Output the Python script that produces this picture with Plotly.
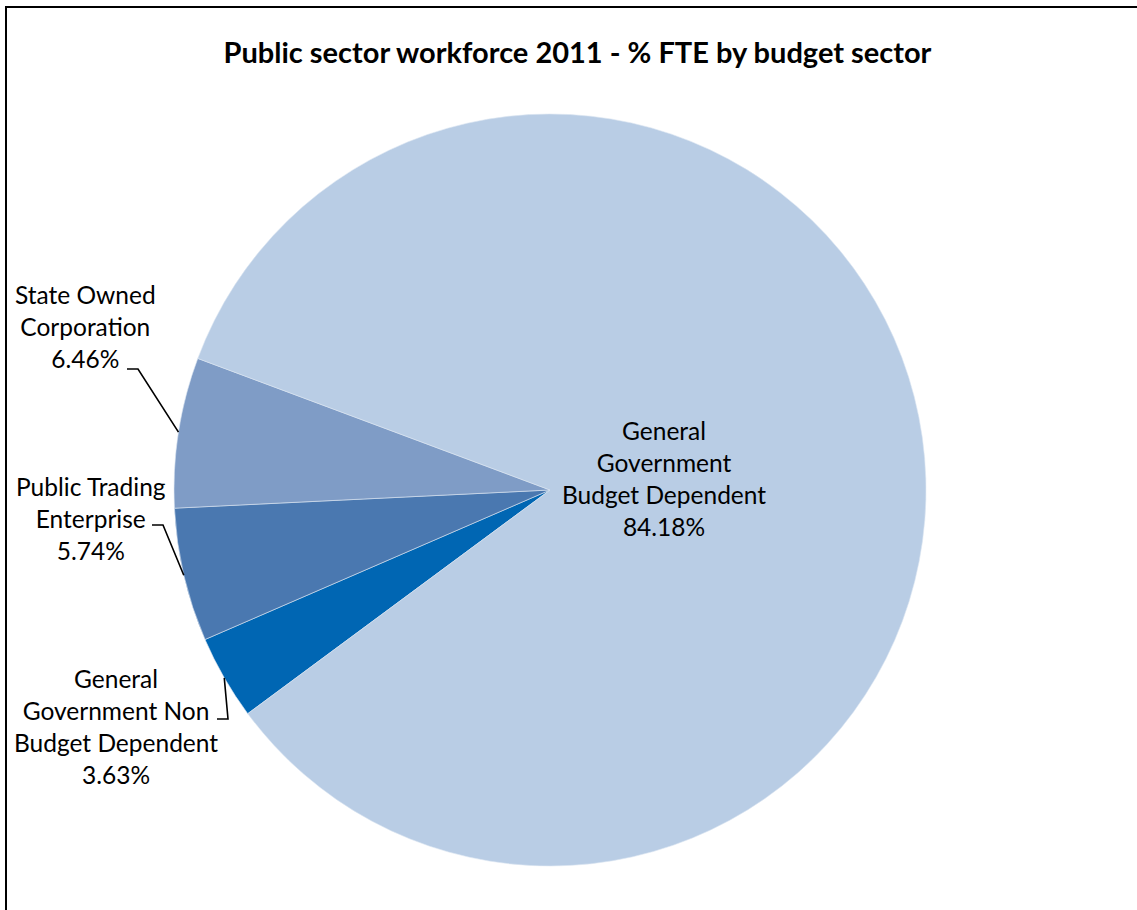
import math
import plotly.graph_objects as go

# Share of full-time-equivalent staff by budget sector (2011), in per cent
sectors = [
    "General Government Non Budget Dependent",
    "Public Trading Enterprise",
    "State Owned Corporation",
    "General Government Budget Dependent",
]
fte_share = [3.63, 5.74, 6.46, 84.18]

# How each sector name is broken over lines in its label
label_lines = [
    ["General", "Government Non", "Budget Dependent"],
    ["Public Trading", "Enterprise"],
    ["State Owned", "Corporation"],
    ["General", "Government", "Budget Dependent"],
]

title_text = "Public sector workforce 2011 - % FTE by budget sector"

# ---- styling / layout -------------------------------------------------------
slice_colors = ["#0066B3", "#4A78B0", "#7F9CC6", "#B9CDE5"]
FONT = "Lato"
LABEL_SIZE = 24.5

W, H = 1137, 910
CX, CY, R = 550, 490, 376          # pie centre and radius, pixels
ROTATION = 233.5                    # where the first slice starts (deg, clockwise from 12 o'clock)

# label block centres (pixels) and, for outside labels, where the leader starts
label_centre = [(116, 726), (91, 518), (85, 326), (664, 478)]
leader_start = [(217, 719), (152, 525), (127, 369), None]
ELBOW = 11  # length of the short horizontal piece of each leader line


def px(x):
    return x / W


def py(y):
    return 1 - y / H


fig = go.Figure(
    go.Pie(
        labels=sectors,
        values=fte_share,
        sort=False,
        direction="clockwise",
        rotation=ROTATION,
        marker=dict(colors=slice_colors, line=dict(color="#DCE6F2", width=0.6)),
        textinfo="none",
        hovertemplate="%{label}: %{value:.2f}%<extra></extra>",
        showlegend=False,
        domain=dict(
            x=[px(CX - R), px(CX + R)],
            y=[py(CY + R), py(CY - R)],
        ),
    )
)

# slice mid-angles, derived from the values
total = sum(fte_share)
mid_angles = []
acc = 0.0
for v in fte_share:
    mid_angles.append(ROTATION + (acc + v / 2) / total * 360.0)
    acc += v

annotations = []
shapes = []
for i, (name_lines, v) in enumerate(zip(label_lines, fte_share)):
    text = "<br>".join(name_lines + [f"{v:.2f}%"])
    lx, ly = label_centre[i]
    annotations.append(
        dict(
            text=text,
            x=px(lx),
            y=py(ly),
            xref="paper",
            yref="paper",
            xanchor="center",
            yanchor="middle",
            align="center",
            showarrow=False,
            font=dict(family=FONT, size=LABEL_SIZE, color="#000000"),
        )
    )
    if leader_start[i] is not None:
        a = math.radians(mid_angles[i])
        ex = CX + R * math.sin(a)
        ey = CY - R * math.cos(a)
        sx, sy = leader_start[i]
        path = (
            f"M {px(sx)},{py(sy)} L {px(sx + ELBOW)},{py(sy)} "
            f"L {px(ex)},{py(ey)}"
        )
        shapes.append(
            dict(
                type="path",
                path=path,
                xref="paper",
                yref="paper",
                line=dict(color="#000000", width=1.6),
                layer="above",
            )
        )

# chart frame
shapes.append(
    dict(
        type="rect",
        xref="paper",
        yref="paper",
        x0=px(6),
        x1=px(W + 20),
        y0=py(H + 20),
        y1=py(7),
        line=dict(color="#000000", width=2),
        fillcolor="rgba(0,0,0,0)",
        layer="above",
    )
)

fig.update_layout(
    width=W,
    height=H,
    margin=dict(l=0, r=0, t=0, b=0),
    paper_bgcolor="white",
    plot_bgcolor="white",
    title=dict(
        text="<b>" + title_text + "</b>",
        x=px(577.5),
        xanchor="center",
        y=py(53),
        yanchor="middle",
        yref="container",
        font=dict(family=FONT, size=29, color="#000000"),
    ),
    annotations=annotations,
    shapes=shapes,
)

fig.write_html("out.html")
